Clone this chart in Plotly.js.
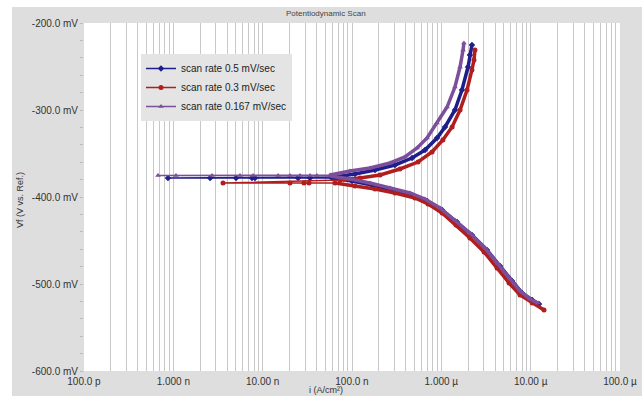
<!DOCTYPE html>
<html><head><meta charset="utf-8">
<script src="https://cdn.plot.ly/plotly-3.0.1.min.js"></script>
<style>html,body{margin:0;padding:0;background:#fff;}#chart{width:642px;height:396px;}</style>
</head><body><div id="chart"></div>
<script>
// ---- data (current density in A/cm², potential in mV) ----
const seriesNames = ["scan rate 0.5 mV/sec", "scan rate 0.3 mV/sec", "scan rate 0.167 mV/sec"];

// 0.5 mV/sec : cathodic branch (outer -> Ecorr), near-Ecorr points, anodic branch (Ecorr -> outer)
const blueCathI = [1.24e-5, 1.04e-5, 8.00e-6, 6.18e-6, 4.54e-6, 3.24e-6, 2.20e-6, 1.50e-6, 1.02e-6, 6.92e-7, 4.70e-7, 2.81e-7, 1.67e-7, 1.00e-7, 5.97e-8];
const blueCathE = [-523.0, -518.4, -510.3, -496.6, -479.3, -460.9, -443.7, -428.7, -414.9, -404.6, -397.7, -392.0, -386.2, -381.6, -378.2];
const blueEcorrI = [3.39e-8, 2.49e-8, 8.20e-9, 7.60e-9, 5.04e-9, 2.58e-9, 8.71e-10];
const blueEcorrE = [-378.2, -378.2, -378.2, -378.2, -378.2, -378.2, -378.2];
const blueAnodI = [6.46e-8, 1.08e-7, 1.81e-7, 3.03e-7, 4.70e-7, 6.56e-7, 8.95e-7, 1.10e-6, 1.42e-6, 1.70e-6, 1.99e-6, 2.09e-6, 2.20e-6];
const blueAnodE = [-377.0, -373.6, -369.0, -363.2, -355.2, -346.0, -332.2, -319.5, -300.0, -277.0, -250.6, -236.8, -225.3];

// 0.3 mV/sec
const redCathI = [1.41e-5, 1.04e-5, 7.60e-6, 5.73e-6, 4.20e-6, 3.01e-6, 2.09e-6, 1.46e-6, 1.02e-6, 7.10e-7, 5.07e-7, 3.03e-7, 1.81e-7, 1.08e-7, 6.46e-8];
const redCathE = [-529.9, -521.8, -512.6, -498.8, -481.6, -463.2, -447.1, -432.2, -418.4, -408.0, -401.1, -395.4, -390.8, -387.4, -383.9];
const redEcorrI = [3.30e-8, 2.90e-8, 2.02e-8, 3.60e-9];
const redEcorrE = [-383.9, -383.9, -383.9, -383.9];
const redAnodI = [7.35e-8, 1.23e-7, 2.06e-7, 3.44e-7, 5.48e-7, 7.87e-7, 1.04e-6, 1.32e-6, 1.62e-6, 1.94e-6, 2.20e-6, 2.32e-6, 2.38e-6];
const redAnodE = [-380.5, -378.2, -374.7, -367.8, -359.8, -348.3, -334.5, -319.5, -300.0, -277.0, -254.0, -242.5, -231.0];

// 0.167 mV/sec
const purpleCathI = [1.21e-5, 9.84e-6, 7.60e-6, 5.87e-6, 4.31e-6, 3.08e-6, 2.09e-6, 1.42e-6, 9.66e-7, 6.56e-7, 4.46e-7, 2.67e-7, 1.59e-7, 9.51e-8, 5.68e-8];
const purpleCathE = [-521.8, -517.2, -508.0, -494.3, -477.0, -458.6, -441.4, -426.4, -412.6, -402.3, -395.4, -389.7, -383.9, -379.3, -375.9];
const purpleEcorrI = [4.05e-8, 3.39e-8, 2.62e-8, 2.02e-8, 1.49e-8, 7.80e-9, 5.57e-9, 2.71e-9, 1.07e-9, 6.73e-10];
const purpleEcorrE = [-375.3, -375.3, -375.3, -375.3, -375.3, -375.3, -375.3, -375.3, -375.3, -375.3];
const purpleAnodI = [5.68e-8, 9.51e-8, 1.59e-7, 2.67e-7, 3.92e-7, 5.35e-7, 6.92e-7, 8.95e-7, 1.16e-6, 1.42e-6, 1.62e-6, 1.75e-6, 1.79e-6];
const purpleAnodE = [-374.7, -370.1, -366.7, -360.9, -354.0, -343.7, -332.2, -314.9, -296.6, -273.6, -250.6, -231.0, -223.0];

const xTickVals = [1e-10, 1e-9, 1e-8, 1e-7, 1e-6, 1e-5, 1e-4];
const xTickText = ["100.0 p", "1.000 n", "10.00 n", "100.0 n", "1.000 µ", "10.00 µ", "100.0 µ"];
const yTickVals = [-600, -500, -400, -300, -200];
const yTickText = ["-600.0 mV", "-500.0 mV", "-400.0 mV", "-300.0 mV", "-200.0 mV"];

// ---- styling ----
const colors = ["#1e1e8c", "#b01e1e", "#7d4f9b"];
const symbols = ["diamond", "circle", "triangle-up"];

function series(name, cI, cE, eI, eE, aI, aE, k) {
  // thick band for the two branches (dense-marker look), thin line + markers for the whole scan
  const band = {
    type: "scatter", mode: "lines", showlegend: false, hoverinfo: "skip",
    x: cI.concat([null], aI), y: cE.concat([null], aE),
    line: {color: colors[k], width: 3.5}
  };
  const main = {
    type: "scatter", mode: "lines+markers", name: name,
    x: cI.concat(eI, aI), y: cE.concat(eE, aE),
    line: {color: colors[k], width: 1.5},
    marker: {color: colors[k], symbol: symbols[k], size: 5}
  };
  return [band, main];
}
const traces = [].concat(
  series(seriesNames[0], blueCathI, blueCathE, blueEcorrI, blueEcorrE, blueAnodI, blueAnodE, 0),
  series(seriesNames[1], redCathI, redCathE, redEcorrI, redEcorrE, redAnodI, redAnodE, 1),
  series(seriesNames[2], purpleCathI, purpleCathE, purpleEcorrI, purpleEcorrE, purpleAnodI, purpleAnodE, 2)
);

const minorX = [];
for (let d = -10; d < -4; d++) for (let m = 2; m <= 9; m++) minorX.push(m * Math.pow(10, d));

const L = 84, R = 620, T = 23, B = 371, W = 642, H = 396;
const pw = R - L, ph = B - T;
const px = v => (v - L) / pw, py = v => (B - v) / ph;

const layout = {
  width: W, height: H,
  margin: {l: L, r: W - R, t: T, b: H - B, pad: 0},
  paper_bgcolor: "#dedede", plot_bgcolor: "#ffffff",
  font: {family: "Liberation Sans, Arial, sans-serif", size: 10, color: "#333"},
  showlegend: true,
  legend: {x: px(141), y: py(54), xanchor: "left", yanchor: "top", bgcolor: "#e4e4e4",
           borderwidth: 0, font: {size: 10, color: "#222"}, tracegroupgap: 0, itemwidth: 30},
  xaxis: {type: "log", range: [-10, -4], tickmode: "array", tickvals: xTickVals, ticktext: xTickText,
          showgrid: true, gridcolor: "#c8c8c8", gridwidth: 1, zeroline: false, showline: false,
          ticks: "", ticklabelstandoff: 3, tickfont: {size: 10, color: "#333"},
          minor: {tickmode: "array", tickvals: minorX, showgrid: true, gridcolor: "#c8c8c8", gridwidth: 1, ticks: ""}},
  yaxis: {range: [-600, -200], tickmode: "array", tickvals: yTickVals, ticktext: yTickText,
          showgrid: false, zeroline: false, showline: false, ticks: "outside", ticklen: 3, tickcolor: "#bbb",
          tickfont: {size: 10, color: "#333"},
          minor: {dtick: 20, ticks: "outside", ticklen: 3, tickcolor: "#bbb"}},
  shapes: [
    {type: "rect", xref: "paper", yref: "paper", x0: px(0), x1: px(W), y0: py(0), y1: py(7),
     fillcolor: "#ffffff", line: {width: 0}, layer: "below"},
    {type: "rect", xref: "paper", yref: "paper", x0: px(0), x1: px(12), y0: py(H), y1: py(0),
     fillcolor: "#ffffff", line: {width: 0}, layer: "below"}
  ],
  annotations: [
    {text: "Potentiodynamic Scan", xref: "paper", yref: "paper", x: px(326), y: py(14),
     xanchor: "center", yanchor: "middle", showarrow: false, font: {size: 8, color: "#444"}},
    {text: "i (A/cm²)", xref: "paper", yref: "paper", x: px(326), y: py(390),
     xanchor: "center", yanchor: "middle", showarrow: false, font: {size: 9, color: "#333"}},
    {text: "Vf (V vs. Ref.)", xref: "paper", yref: "paper", x: px(20), y: py(200), textangle: -90,
     xanchor: "center", yanchor: "middle", showarrow: false, font: {size: 9, color: "#333"}}
  ]
};

Plotly.newPlot("chart", traces, layout, {displayModeBar: false, staticPlot: true});
</script></body></html>
